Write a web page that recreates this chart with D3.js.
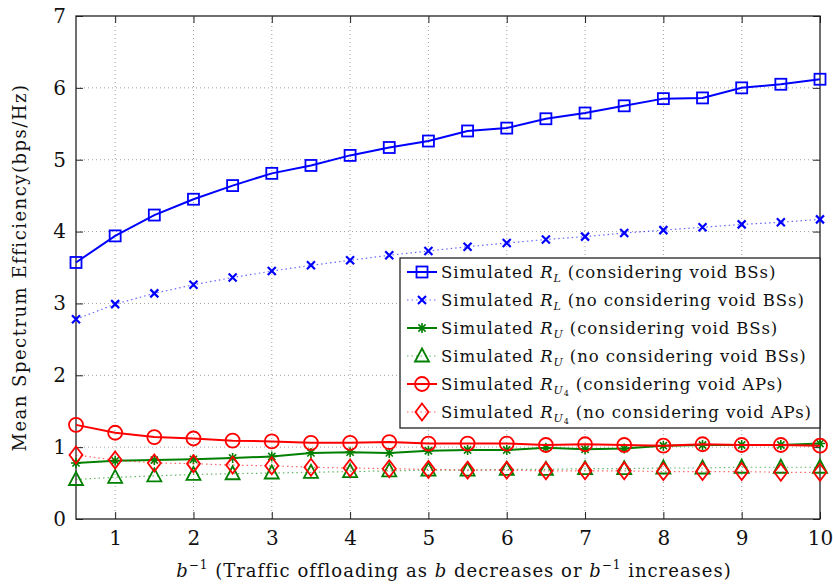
<!DOCTYPE html>
<html>
<head>
<meta charset="utf-8">
<script src="https://cdn.jsdelivr.net/npm/d3@7"></script>
<style>
  body { margin: 0; background: #fff; }
</style>
</head>
<body>
<div id="chart"></div>
<script>
// x positions (b^-1)
const xValues = [0.5, 1, 1.5, 2, 2.5, 3, 3.5, 4, 4.5, 5, 5.5, 6, 6.5, 7, 7.5, 8, 8.5, 9, 9.5, 10];

const rlVoid = [3.57, 3.94, 4.23, 4.45, 4.64, 4.81, 4.92, 5.06, 5.17, 5.26, 5.40, 5.44, 5.57, 5.65, 5.75, 5.85, 5.86, 6.00, 6.05, 6.12];
const rlNoVoid = [2.78, 2.99, 3.14, 3.26, 3.36, 3.45, 3.53, 3.60, 3.67, 3.73, 3.79, 3.84, 3.89, 3.93, 3.98, 4.02, 4.06, 4.10, 4.13, 4.17];
const ruVoid = [0.78, 0.81, 0.82, 0.83, 0.85, 0.87, 0.92, 0.93, 0.92, 0.95, 0.96, 0.96, 0.99, 0.97, 0.98, 1.02, 1.03, 1.03, 1.03, 1.05];
const ruNoVoid = [0.55, 0.58, 0.60, 0.62, 0.63, 0.64, 0.65, 0.66, 0.67, 0.68, 0.68, 0.69, 0.69, 0.70, 0.70, 0.71, 0.71, 0.72, 0.72, 0.72];
const ru4Void = [1.31, 1.20, 1.14, 1.12, 1.09, 1.08, 1.06, 1.06, 1.07, 1.05, 1.05, 1.05, 1.03, 1.04, 1.03, 1.02, 1.04, 1.03, 1.03, 1.02];
const ru4NoVoid = [0.89, 0.82, 0.78, 0.77, 0.75, 0.74, 0.72, 0.71, 0.70, 0.69, 0.68, 0.68, 0.67, 0.67, 0.67, 0.66, 0.66, 0.66, 0.65, 0.65];

const xTicks = [1, 2, 3, 4, 5, 6, 7, 8, 9, 10];
const yTicks = [0, 1, 2, 3, 4, 5, 6, 7];

const series = [
  {values: rlVoid, color: '#0000ff', marker: 'square', dotted: false, sub: 'L', tail: '(considering void BSs)'},
  {values: rlNoVoid, color: '#0000ff', marker: 'cross', dotted: true, sub: 'L', tail: '(no considering void BSs)'},
  {values: ruVoid, color: '#008000', marker: 'star', dotted: false, sub: 'U', tail: '(considering void BSs)'},
  {values: ruNoVoid, color: '#008000', marker: 'triangle', dotted: true, sub: 'U', tail: '(no considering void BSs)'},
  {values: ru4Void, color: '#ff0000', marker: 'circle', dotted: false, sub: 'U4', tail: '(considering void APs)'},
  {values: ru4NoVoid, color: '#ff0000', marker: 'diamond', dotted: true, sub: 'U4', tail: '(no considering void APs)'}
];

const FONT = '"DejaVu Serif", "Liberation Serif", serif';
const width = 833, height = 584;
const margin = {left: 76, right: 13, top: 16, bottom: 65};
const plotW = width - margin.left - margin.right;
const plotH = height - margin.top - margin.bottom;

const svg = d3.select('#chart').append('svg')
  .attr('width', width)
  .attr('height', height)
  .attr('font-family', FONT);

const x = d3.scaleLinear().domain([0.5, 10]).range([margin.left, margin.left + plotW]);
const y = d3.scaleLinear().domain([0, 7]).range([margin.top + plotH, margin.top]);

// grid
const grid = svg.append('g')
  .attr('stroke', '#888')
  .attr('stroke-width', 0.8)
  .attr('stroke-dasharray', '1,3');
grid.selectAll('line.gx').data(xTicks.filter(d => d < 10)).join('line')
  .attr('class', 'gx')
  .attr('x1', d => x(d)).attr('x2', d => x(d))
  .attr('y1', y(0)).attr('y2', y(7));
grid.selectAll('line.gy').data(yTicks.filter(d => d > 0 && d < 7)).join('line')
  .attr('class', 'gy')
  .attr('x1', x(0.5)).attr('x2', x(10))
  .attr('y1', d => y(d)).attr('y2', d => y(d));

// axes, ticks inward on all sides
const tick = 7;
svg.append('g')
  .attr('transform', `translate(0,${y(0)})`)
  .call(d3.axisBottom(x).tickValues(xTicks).tickSize(-tick).tickPadding(12).tickFormat(d3.format('d')))
  .call(g => g.select('.domain').remove());
svg.append('g')
  .attr('transform', `translate(0,${y(7)})`)
  .call(d3.axisTop(x).tickValues(xTicks).tickSize(-tick).tickFormat(''))
  .call(g => g.select('.domain').remove());
svg.append('g')
  .attr('transform', `translate(${x(0.5)},0)`)
  .call(d3.axisLeft(y).tickValues(yTicks).tickSize(-tick).tickPadding(10).tickFormat(d3.format('d')))
  .call(g => g.select('.domain').remove());
svg.append('g')
  .attr('transform', `translate(${x(10)},0)`)
  .call(d3.axisRight(y).tickValues(yTicks).tickSize(-tick).tickFormat(''))
  .call(g => g.select('.domain').remove());
svg.selectAll('.tick line').attr('stroke', '#222');
svg.selectAll('.tick text').attr('font-size', 20).attr('font-family', FONT).attr('fill', '#111');
svg.selectAll('g').filter(function() { return this.getAttribute('font-family') === 'sans-serif'; })
  .attr('font-family', FONT);

svg.append('rect')
  .attr('x', x(0.5)).attr('y', y(7))
  .attr('width', x(10) - x(0.5)).attr('height', y(0) - y(7))
  .attr('fill', 'none').attr('stroke', '#222').attr('stroke-width', 1.3);

function drawMarker(g, type, color) {
  const s = 5.5;
  if (type === 'square') {
    g.append('rect').attr('x', -s).attr('y', -s).attr('width', 2 * s).attr('height', 2 * s)
      .attr('fill', 'none').attr('stroke', color).attr('stroke-width', 1.8);
  } else if (type === 'cross') {
    g.append('path').attr('d', 'M-4,-4L4,4M-4,4L4,-4')
      .attr('stroke', color).attr('stroke-width', 2.2);
  } else if (type === 'star') {
    g.append('path').attr('d', 'M-5,0L5,0M0,-5L0,5M-3.6,-3.6L3.6,3.6M-3.6,3.6L3.6,-3.6')
      .attr('stroke', color).attr('stroke-width', 1.6);
  } else if (type === 'triangle') {
    g.append('path').attr('d', 'M0,-7.5L7,5.5L-7,5.5Z')
      .attr('fill', 'none').attr('stroke', color).attr('stroke-width', 1.8);
  } else if (type === 'circle') {
    g.append('circle').attr('r', 7)
      .attr('fill', 'none').attr('stroke', color).attr('stroke-width', 1.8);
  } else if (type === 'diamond') {
    g.append('path').attr('d', 'M0,-8.5L6.5,0L0,8.5L-6.5,0Z')
      .attr('fill', 'none').attr('stroke', color).attr('stroke-width', 1.8);
  }
}

const line = d3.line().x(d => x(d[0])).y(d => y(d[1]));

series.forEach(s => {
  const pts = xValues.map((v, i) => [v, s.values[i]]);
  const g = svg.append('g');
  g.append('path')
    .datum(pts)
    .attr('d', line)
    .attr('fill', 'none')
    .attr('stroke', s.color)
    .attr('stroke-width', s.dotted ? 1.2 : 2)
    .attr('stroke-opacity', s.dotted ? 0.6 : 1)
    .attr('stroke-dasharray', s.dotted ? '1.5,3' : null);
  g.selectAll('g.m').data(pts).join('g')
    .attr('transform', d => `translate(${x(d[0])},${y(d[1])})`)
    .each(function() { drawMarker(d3.select(this), s.marker, s.color); });
});

// legend
const lg = svg.append('g').attr('transform', 'translate(400,258)');
lg.append('rect').attr('width', 420).attr('height', 170)
  .attr('fill', '#fff').attr('stroke', '#222').attr('stroke-width', 1.3);
series.forEach((s, i) => {
  const row = lg.append('g').attr('transform', `translate(0,${14 + i * 28})`);
  row.append('line').attr('x1', 7).attr('x2', 37).attr('y1', 0).attr('y2', 0)
    .attr('stroke', s.color)
    .attr('stroke-width', s.dotted ? 1.2 : 2)
    .attr('stroke-opacity', s.dotted ? 0.6 : 1)
    .attr('stroke-dasharray', s.dotted ? '1.5,3' : null);
  drawMarker(row.append('g').attr('transform', 'translate(22,0)'), s.marker, s.color);
  const t = row.append('text').attr('x', 41).attr('y', 6)
    .attr('font-size', 16.5).attr('letter-spacing', 0.9).attr('fill', '#111');
  t.append('tspan').text('Simulated ');
  t.append('tspan').attr('font-style', 'italic').text('R');
  if (s.sub === 'U4') {
    t.append('tspan').attr('font-style', 'italic').attr('font-size', 11).attr('dy', 4).text('U');
    t.append('tspan').attr('font-size', 8).attr('dy', 2).text('4');
    t.append('tspan').attr('dy', -6).text(' ' + s.tail);
  } else {
    t.append('tspan').attr('font-style', 'italic').attr('font-size', 11).attr('dy', 4).text(s.sub);
    t.append('tspan').attr('dy', -4).text(' ' + s.tail);
  }
});

// axis labels
svg.append('text')
  .attr('transform', `translate(26,${(y(0) + y(7)) / 2}) rotate(-90)`)
  .attr('text-anchor', 'middle')
  .attr('font-size', 18)
  .attr('letter-spacing', 1.5)
  .attr('fill', '#111')
  .text('Mean Spectrum Efficiency(bps/Hz)');

const xl = svg.append('text')
  .attr('x', 454).attr('y', 577)
  .attr('text-anchor', 'middle')
  .attr('font-size', 18)
  .attr('letter-spacing', 1)
  .attr('fill', '#111');
xl.append('tspan').attr('font-style', 'italic').text('b');
xl.append('tspan').attr('font-size', 12).attr('dy', -8).text('−1');
xl.append('tspan').attr('dy', 8).text(' (Traffic offloading as ');
xl.append('tspan').attr('font-style', 'italic').text('b');
xl.append('tspan').text(' decreases or ');
xl.append('tspan').attr('font-style', 'italic').text('b');
xl.append('tspan').attr('font-size', 12).attr('dy', -8).text('−1');
xl.append('tspan').attr('dy', 8).text(' increases)');
</script>
</body>
</html>
